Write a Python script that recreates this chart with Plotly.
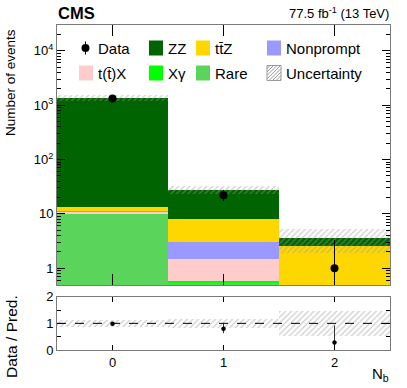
import math
import plotly.graph_objects as go

# ---------------- data ----------------
nb = [0, 1, 2]
data_counts = [1330, 22, 1]
data_err_up = [36.5, 5.73, 2.30]
data_err_dn = [36.5, 4.67, 0.83]

rare = [10.3, 0.55, 0.20]
xgamma = [0.02, 0.02, 0.0]
ttx = [0.5, 0.91, 0.15]
nonprompt = [0.5, 1.57, 0.05]
ttz = [2.3, 4.95, 2.17]
zz = [1336.0, 19.6, 1.0]
rel_unc = [0.12, 0.17, 0.46]

x_ticks = [0, 1, 2]
x_tick_labels = ["0", "1", "2"]
y_ticks = [1, 10, 100, 1000, 10000]
y_tick_labels = ["1", "10", "10<sup>2</sup>", "10<sup>3</sup>", "10<sup>4</sup>"]
r_ticks = [0, 1, 2]
r_tick_labels = ["0", "1", "2"]

# stack order: bottom -> top
stack = [
    ("Rare", rare, "#5AD45A"),
    ("Xγ", xgamma, "#00FF00"),
    ("t(t\u0304)X", ttx, "#FFCCCC"),
    ("Nonprompt", nonprompt, "#9999FF"),
    ("tt\u0304Z", ttz, "#FFD700"),
    ("ZZ", zz, "#006400"),
]

total = [sum(s[1][i] for s in stack) for i in range(len(nb))]

# ---------------- figure ----------------
W, H = 407, 388
L, R, T, B = 57, 17, 25, 38
PW, PH = W - L - R, H - T - B


def px(x):
    return (x - L) / PW


def py(y):
    return (H - B - y) / PH


FONT = "Liberation Sans, Arial, Helvetica, sans-serif"
HATCH = "#9a9a9a"

fig = go.Figure()

for name, vals, col in stack:
    fig.add_trace(go.Bar(
        x=nb, y=vals, width=1.0, name=name, marker=dict(color=col, line=dict(width=0)),
        xaxis="x", yaxis="y", showlegend=False,
    ))

# uncertainty band, main
fig.add_trace(go.Bar(
    x=nb, y=[2 * t * r for t, r in zip(total, rel_unc)],
    base=[t * (1 - r) for t, r in zip(total, rel_unc)],
    width=1.0, xaxis="x", yaxis="y", showlegend=False,
    marker=dict(color="rgba(0,0,0,0)", line=dict(width=0),
                pattern=dict(shape="/", fgcolor=HATCH, bgcolor="rgba(0,0,0,0)", size=4, solidity=0.3)),
))

# data, main
fig.add_trace(go.Scatter(
    x=nb, y=data_counts, mode="markers", xaxis="x", yaxis="y", showlegend=False,
    marker=dict(color="black", size=8),
    error_y=dict(type="data", array=data_err_up, arrayminus=data_err_dn, color="black", thickness=1, width=0),
))

# ratio band
fig.add_trace(go.Bar(
    x=nb, y=[2 * r for r in rel_unc], base=[1 - r for r in rel_unc],
    width=1.0, xaxis="x2", yaxis="y2", showlegend=False,
    marker=dict(color="rgba(0,0,0,0)", line=dict(width=0),
                pattern=dict(shape="/", fgcolor=HATCH, bgcolor="rgba(0,0,0,0)", size=4, solidity=0.3)),
))

ratio = [d / t for d, t in zip(data_counts, total)]
fig.add_trace(go.Scatter(
    x=nb, y=ratio, mode="markers", xaxis="x2", yaxis="y2", showlegend=False,
    marker=dict(color="black", size=4.5),
    error_y=dict(type="data", array=[e / t for e, t in zip(data_err_up, total)],
                 arrayminus=[e / t for e, t in zip(data_err_dn, total)],
                 color="#333333", thickness=1, width=0),
))

# ---------------- axes ----------------
LINEC = "#7a7a7a"
main_bottom = py(285)
ratio_top = py(296.7)

minor_log = [m * 10 ** e for e in range(-1, 5) for m in range(2, 10)]

common = dict(showline=True, linecolor=LINEC, linewidth=1, mirror="ticks", showgrid=False,
              zeroline=False, ticks="inside", tickcolor="black", tickwidth=1,
              tickfont=dict(family=FONT, size=13, color="black"))

fig.update_layout(
    width=W, height=H,
    margin=dict(l=L, r=R, t=T, b=B, pad=0),
    paper_bgcolor="white", plot_bgcolor="white",
    barmode="stack", bargap=0,
    font=dict(family=FONT, color="black"),
    xaxis=dict(domain=[0, 1], range=[-0.5, 2.5], anchor="y", tickvals=x_ticks,
               showticklabels=False, ticklen=11, **common),
    yaxis=dict(domain=[main_bottom, 1], type="log", range=[math.log10(0.49), math.log10(30000)],
               anchor="x", tickvals=y_ticks, ticktext=y_tick_labels, ticklen=8,
               minor=dict(tickvals=minor_log, ticks="inside", ticklen=4, tickcolor="black"),
               **common),
    xaxis2=dict(domain=[0, 1], range=[-0.5, 2.5], anchor="y2", tickvals=x_ticks,
                ticktext=x_tick_labels, ticklen=5, **common),
    yaxis2=dict(domain=[0, ratio_top], range=[0, 2], anchor="x2", tickvals=r_ticks,
                ticktext=r_tick_labels, ticklen=8,
                minor=dict(tickvals=[0.5, 1.5], ticks="inside", ticklen=4, tickcolor="black"),
                **common),
)

shapes = [dict(type="line", xref="x2", yref="y2", x0=-0.5, x1=2.5, y0=1, y1=1,
               line=dict(color="black", width=1, dash="dash"))]

annotations = [
    dict(text="<b>CMS</b>", x=px(56), y=py(13), xref="paper", yref="paper", xanchor="left",
         yanchor="middle", showarrow=False, font=dict(family=FONT, size=16.5)),
    dict(text="77.5 fb<sup>-1</sup> (13 TeV)", x=px(391), y=py(13), xref="paper", yref="paper",
         xanchor="right", yanchor="middle", showarrow=False, font=dict(family=FONT, size=13)),
    dict(text="Number of events", x=px(10), y=py(82), xref="paper", yref="paper", textangle=-90,
         xanchor="center", yanchor="middle", showarrow=False, font=dict(family=FONT, size=13.5)),
    dict(text="Data / Pred.", x=px(11), y=py(337), xref="paper", yref="paper", textangle=-90,
         xanchor="center", yanchor="middle", showarrow=False, font=dict(family=FONT, size=15.5)),
    dict(text="N<sub>b</sub>", x=px(391), y=py(374), xref="paper", yref="paper",
         xanchor="right", yanchor="middle", showarrow=False, font=dict(family=FONT, size=15)),
]

# ---------------- custom legend ----------------
colors = {n: c for n, _, c in stack}
legend_entries = [
    ("Data", "data"), ("ZZ", "box"), ("tt\u0304Z", "box"), ("Nonprompt", "box"),
    ("t(t\u0304)X", "box"), ("Xγ", "box"), ("Rare", "box"), ("Uncertainty", "hatch"),
]
col_box_x = [79, 149, 196, 267]
row_y = [48, 73]
bw, bh = 14, 15

for i, (name, kind) in enumerate(legend_entries):
    r, c = divmod(i, 4)
    bx0 = col_box_x[c]
    bx1 = bx0 + bw
    yc = row_y[r]
    by0, by1 = yc - bh / 2, yc + bh / 2
    tx = bx1 + 3
    if kind == "box":
        shapes.append(dict(type="rect", xref="paper", yref="paper", x0=px(bx0), x1=px(bx1),
                           y0=py(by1), y1=py(by0), fillcolor=colors[name], line=dict(width=0)))
    elif kind == "data":
        cx = (bx0 + bx1) / 2 - 0.5
        shapes.append(dict(type="line", xref="paper", yref="paper", x0=px(cx), x1=px(cx),
                           y0=py(yc - 6.5), y1=py(yc + 6.5), line=dict(color="black", width=1)))
        shapes.append(dict(type="circle", xref="paper", yref="paper", x0=px(cx - 4), x1=px(cx + 4),
                           y0=py(yc + 4), y1=py(yc - 4), fillcolor="black", line=dict(width=0)))
    else:
        shapes.append(dict(type="rect", xref="paper", yref="paper", x0=px(bx0), x1=px(bx1),
                           y0=py(by1), y1=py(by0), fillcolor="rgba(0,0,0,0)",
                           line=dict(color=HATCH, width=1)))
        cval = bx0 + by0 + 3
        while cval < bx1 + by1:
            xa = max(bx0, cval - by1)
            xb = min(bx1, cval - by0)
            if xb > xa:
                shapes.append(dict(type="line", xref="paper", yref="paper",
                                   x0=px(xa), y0=py(cval - xa), x1=px(xb), y1=py(cval - xb),
                                   line=dict(color=HATCH, width=1)))
            cval += 3.5
    annotations.append(dict(text=name, x=px(tx), y=py(yc), xref="paper", yref="paper",
                            xanchor="left", yanchor="middle", showarrow=False,
                            font=dict(family=FONT, size=15)))

fig.update_layout(shapes=shapes, annotations=annotations)
fig.write_html("out.html", config={"displayModeBar": False},
               post_script="document.body.style.margin='0';document.body.style.overflow='hidden';")
